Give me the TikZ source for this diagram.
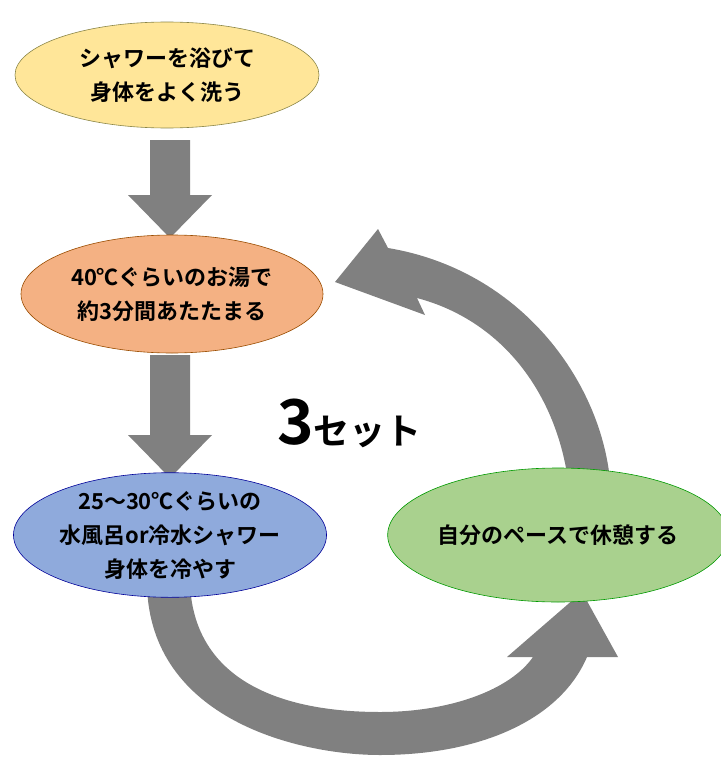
\documentclass[tikz,border=0pt]{standalone}
\usepackage{fontspec}
\setmainfont{Noto Sans CJK JP}[BoldFont={* Bold}]
\usetikzlibrary{shapes.geometric}
\definecolor{gr}{HTML}{808080}
\tikzset{
 ell/.style={ellipse,draw=#1!60!black,line width=0.6pt,inner sep=0pt,align=center,font=\bfseries\fontsize{22}{34}\selectfont},
 arr/.style={fill=gr,draw=none}
}
\begin{document}
\begin{tikzpicture}[x=1pt,y=-1pt]
\useasboundingbox (0,0) rectangle (720,768);
% straight arrows
\fill[arr] (150,140) -- (190,140) -- (190,195) -- (212,195) -- (170,238) -- (128,195) -- (150,195) -- cycle;
\fill[arr] (150,355) -- (190,355) -- (190,435) -- (212,435) -- (170,478) -- (128,435) -- (150,435) -- cycle;
% bottom curved arrow
\fill[arr] (147,585) .. controls (150,720) and (300,755) .. (380,755) .. controls (480,755) and (560,720) .. (587,657) -- (618,657) -- (582,592) -- (507,657) -- (533,657) .. controls (510,690) and (450,712) .. (380,712) .. controls (280,712) and (195,680) .. (190,585) -- cycle;
% top curved arrow
\fill[arr] (568,480) .. controls (555,390) and (500,320) .. (417,298) -- (425,315) -- (335,282) -- (378,229) -- (388,248) .. controls (520,270) and (600,380) .. (610,480) -- cycle;
% ellipses
\node[ell=yellow!80!black,fill={rgb,255:red,255;green,230;blue,153},minimum width=304pt,minimum height=106pt] (a) at (167,75) {シャワーを浴びて\\身体をよく洗う};
\node[ell=orange,fill={rgb,255:red,244;green,177;blue,131},minimum width=302pt,minimum height=118pt] (b) at (172,294) {40℃ぐらいのお湯で\\約3分間あたたまる};
\node[ell=blue,fill={rgb,255:red,143;green,170;blue,220},minimum width=304pt,minimum height=122pt] (c) at (170,535) {25～30℃ぐらいの\\水風呂or冷水シャワー\\身体を冷やす};
\node[ell=green,fill={rgb,255:red,169;green,209;blue,142},minimum width=306pt,minimum height=134pt] (d) at (558,535) {自分のペースで休憩する};
\node[font=\bfseries,anchor=base west,inner sep=0pt] (t) at (277,444) {\fontsize{62}{62}\selectfont 3\fontsize{36}{36}\selectfont セット};
\end{tikzpicture}
\end{document}
